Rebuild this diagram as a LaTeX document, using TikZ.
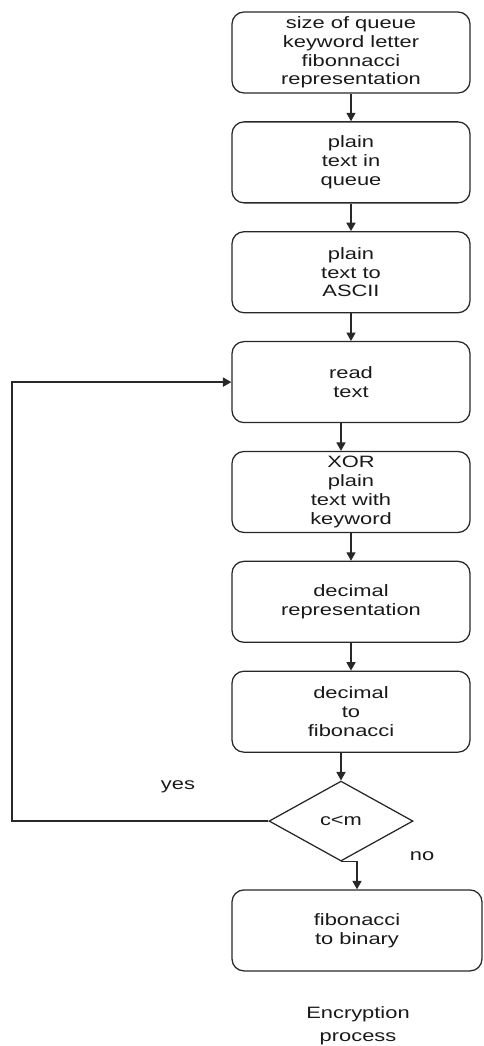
\documentclass[tikz,border=0pt]{standalone}
\usepackage{fontspec}
\setmainfont[FakeStretch=1.33]{Liberation Sans}
\usetikzlibrary{positioning, shapes.geometric, arrows.meta}
\definecolor{linecol}{RGB}{40,40,40}
\definecolor{textcol}{RGB}{25,25,25}

\begin{document}
\begin{tikzpicture}[
    font=\fontsize{11.7}{13.3}\selectfont,
    box/.style={rectangle, rounded corners=0.3cm, draw=linecol, line width=0.9pt, text=textcol, align=center, minimum width=5.95cm, minimum height=2.025cm, inner sep=0pt},
    decision/.style={diamond, aspect=1.8, draw=linecol, line width=0.9pt, text=textcol, minimum width=3.6cm, minimum height=2cm, inner sep=0pt},
    arr/.style={-{Triangle[length=6pt, width=6.5pt]}, draw=linecol, line width=0.9pt},
    lbl/.style={text=textcol, inner sep=0pt, align=center}
]
\useasboundingbox (0,0) rectangle (12.1,-26.15);

% main column of steps
\node[box] at (8.775,-1.3125) (sizes) {size of queue\\keyword letter\\fibonnacci\\representation};
\node[box, below=0.69cm of sizes] (queue) {plain\\text in\\queue};
\node[box, below=0.69cm of queue] (ascii) {plain\\text to\\ASCII};
\node[box, below=0.69cm of ascii] (read) {read\\text};
\node[box, below=0.69cm of read] (xor) {XOR\\plain\\text with\\keyword};
\node[box, below=0.69cm of xor] (decimal) {decimal\\representation};
\node[box, below=0.69cm of decimal] (dectofib) {decimal\\to\\fibonacci};

% test and last step
\node[decision, below=0.69cm of dectofib, xshift=-0.25cm] (check) {c<m};
\coordinate (tobinnw) at (dectofib.west |- check.south);
\node[box, minimum width=6.25cm, below=0.69cm of tobinnw, anchor=north west] (tobin) {fibonacci\\to binary};

% labels
\node[lbl] at (4.45,-19.675) (yeslabel) {yes};
\node[lbl] at (10.55,-21.4) (nolabel) {no};
\node[lbl, anchor=north] at (8.95,-25.15) (caption) {Encryption\\[3pt]process};

% arrows
\draw[arr] (sizes) -- (queue);
\draw[arr] (queue) -- (ascii);
\draw[arr] (ascii) -- (read);
\draw[arr] ([xshift=-0.25cm]read.south) -- ([xshift=-0.25cm]xor.north);
\draw[arr] (xor) -- (decimal);
\draw[arr] (decimal) -- (dectofib);
\draw[arr] (dectofib.south -| check.north) -- (check.north);
\draw[arr] (check.south) -| (tobin.north);

% loop back on yes
\coordinate (loopleft) at (0.3,0);
\draw[arr] (check.west) -- (check.west -| loopleft) |- (read.west);

\end{tikzpicture}
\end{document}
